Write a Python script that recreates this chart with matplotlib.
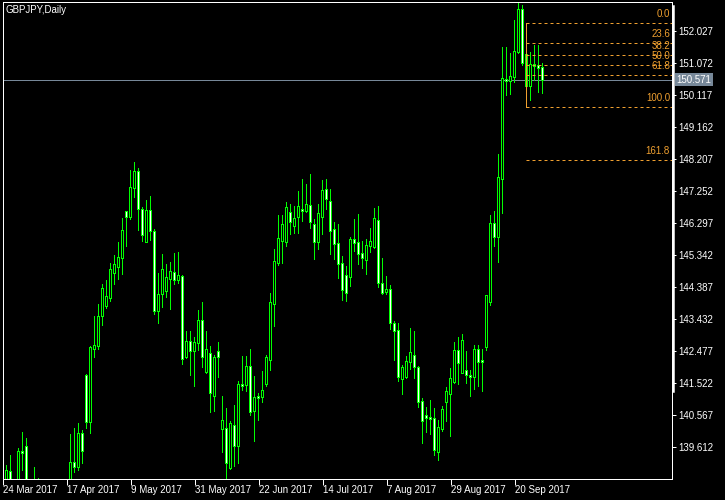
import numpy as np
import pandas as pd
import matplotlib
matplotlib.use("Agg")
import matplotlib.pyplot as plt
from matplotlib.patches import Rectangle
from matplotlib.lines import Line2D
import matplotlib.transforms as mtransforms

plt.rcParams['font.family'] = ['Liberation Sans', 'DejaVu Sans']

title = "GBPJPY,Daily"
dates = pd.bdate_range("2017-03-24", periods=135)

opens = [138.40, 138.89, 138.35, 138.40, 139.49, 139.63, 138.30, 137.80, 137.50, 137.00,
         136.80, 136.50, 136.10, 135.90, 136.20, 136.00, 137.00, 139.16, 139.01, 140.02,
         141.75, 140.36, 142.53, 142.62, 143.50, 143.82, 144.06, 144.81, 144.99, 145.25,
         146.65, 146.48, 147.34, 147.84, 146.70, 145.73, 146.68, 146.05, 143.66, 144.17,
         144.27, 144.63, 144.83, 144.60, 144.71, 142.28, 142.77, 142.48, 142.72, 143.39,
         141.85, 142.40, 141.14, 142.47, 140.13, 140.16, 138.99, 140.26, 139.64, 141.48,
         141.46, 142.02, 140.69, 141.13, 141.11, 141.48, 142.20, 143.87, 145.10, 145.76,
         145.73, 146.62, 146.21, 146.46, 146.71, 146.64, 146.83, 146.26, 145.73, 146.48,
         147.30, 146.95, 146.11, 145.69, 145.10, 144.74, 144.69, 145.81, 145.72, 145.39,
         145.19, 145.61, 145.58, 146.38, 144.49, 144.24, 144.31, 143.30, 143.10, 141.62,
         141.68, 142.15, 142.34, 142.00, 140.98, 140.56, 140.51, 140.48, 139.46, 140.15,
         140.96, 141.19, 141.54, 142.49, 141.82, 141.90, 141.75, 141.70, 142.52, 142.20,
         142.58, 143.94, 146.28, 145.88, 147.61, 150.59, 150.54, 150.66, 151.40, 152.67,
         151.33, 150.39, 151.04, 151.01, 150.94]
highs = [139.07, 139.37, 138.55, 139.58, 140.06, 139.87, 138.60, 139.01, 138.68, 137.60,
         137.30, 136.90, 136.60, 136.40, 136.60, 137.20, 139.99, 140.17, 140.33, 140.11,
         141.78, 142.62, 143.50, 143.87, 144.47, 144.59, 145.11, 145.34, 145.72, 146.44,
         146.65, 147.87, 148.11, 147.93, 146.77, 146.98, 147.10, 146.11, 144.80, 145.37,
         145.07, 145.13, 145.40, 145.42, 144.74, 143.07, 143.07, 142.89, 143.69, 143.93,
         143.07, 142.62, 142.35, 142.74, 141.13, 140.77, 140.38, 140.86, 141.57, 142.32,
         142.32, 142.53, 141.72, 141.21, 141.88, 142.35, 144.19, 145.51, 146.53, 146.53,
         146.92, 146.86, 146.80, 147.25, 147.60, 147.45, 147.75, 146.41, 146.86, 147.57,
         147.60, 147.30, 146.32, 146.26, 145.31, 145.01, 145.87, 146.41, 146.56, 145.75,
         145.81, 146.14, 146.74, 146.80, 145.25, 144.71, 144.44, 143.37, 143.30, 142.05,
         142.32, 143.16, 143.07, 142.03, 141.08, 140.81, 141.01, 140.78, 140.41, 140.83,
         141.40, 141.97, 142.75, 142.90, 142.98, 142.48, 141.90, 142.65, 142.65, 142.52,
         144.14, 146.53, 146.65, 148.35, 151.53, 151.55, 151.37, 152.35, 152.86, 152.80,
         151.54, 151.40, 151.60, 151.60, 151.06]
lows = [138.20, 137.90, 137.85, 138.20, 138.92, 138.00, 137.50, 137.20, 136.70, 136.50,
        136.20, 135.80, 135.60, 135.50, 135.70, 135.60, 136.80, 138.86, 138.92, 139.13,
        140.17, 140.02, 142.30, 142.53, 143.25, 143.76, 143.97, 144.47, 144.63, 144.78,
        145.61, 146.41, 147.07, 146.08, 145.76, 145.73, 145.78, 143.57, 143.31, 143.79,
        144.09, 143.73, 144.47, 144.51, 142.08, 142.25, 141.75, 141.43, 142.50, 141.98,
        141.81, 140.66, 140.68, 141.70, 139.46, 138.55, 138.96, 139.04, 139.14, 141.31,
        141.29, 140.56, 139.79, 140.41, 140.96, 141.43, 141.90, 143.23, 145.04, 145.10,
        145.60, 145.95, 145.98, 146.00, 146.36, 146.62, 146.15, 145.22, 145.52, 145.96,
        146.71, 145.37, 145.22, 144.66, 144.00, 143.97, 144.42, 145.46, 145.08, 144.96,
        144.78, 145.43, 145.54, 144.37, 144.17, 144.16, 143.13, 142.20, 141.57, 141.19,
        141.65, 141.93, 141.65, 140.81, 139.73, 140.06, 139.99, 139.37, 139.22, 140.08,
        140.39, 139.94, 141.51, 141.49, 141.81, 141.52, 141.14, 141.33, 141.43, 141.29,
        142.50, 143.84, 145.61, 145.13, 146.60, 150.11, 150.14, 150.51, 151.35, 151.01,
        150.11, 149.96, 150.56, 150.20, 150.18]
closes = [138.92, 138.30, 138.15, 139.49, 139.44, 138.30, 137.70, 137.50, 137.00, 136.80,
          136.50, 136.10, 135.90, 136.20, 136.00, 136.90, 139.16, 139.01, 140.02, 139.49,
          140.36, 142.60, 142.65, 143.52, 144.36, 144.11, 144.92, 145.07, 145.28, 146.08,
          146.48, 147.36, 147.84, 146.70, 145.94, 146.68, 146.04, 143.67, 144.17, 144.92,
          144.68, 144.86, 144.60, 144.74, 142.22, 142.77, 142.47, 142.74, 143.39, 142.30,
          142.53, 141.23, 142.30, 142.28, 140.41, 139.12, 140.31, 139.64, 141.48, 141.43,
          142.02, 140.66, 141.09, 141.08, 141.31, 142.29, 143.93, 145.16, 145.84, 146.26,
          146.77, 146.31, 146.44, 146.80, 146.64, 146.86, 146.33, 145.73, 146.59, 147.27,
          147.01, 146.06, 145.65, 145.08, 144.30, 144.21, 145.81, 145.70, 145.37, 145.25,
          145.63, 145.75, 146.43, 144.49, 144.21, 144.32, 143.30, 143.08, 141.70, 141.98,
          142.16, 142.43, 141.98, 140.96, 140.39, 140.48, 140.43, 139.52, 140.21, 140.73,
          141.29, 141.65, 142.49, 142.12, 142.80, 141.75, 141.69, 142.52, 142.13, 142.13,
          144.14, 146.28, 145.88, 147.65, 150.61, 150.54, 150.68, 151.42, 152.67, 151.06,
          150.39, 151.04, 150.98, 150.93, 150.571]

price_ticks = [152.027, 151.072, 150.117, 149.162, 148.207, 147.252, 146.297,
               145.342, 144.387, 143.432, 142.477, 141.522, 140.567, 139.612]
last_price = 150.571

# fibonacci retracement drawn on bar 130
fib_bar = 130
fib_zero = 152.268
fib_hundred = 149.743
fib_levels = [0.0, 23.6, 38.2, 50.0, 61.8, 100.0, 161.8]

lime = '#00FF00'
orange = '#F0A030'
px = 0.72  # one pixel in points at dpi 100

fig = plt.figure(figsize=(7.25, 5), dpi=100, facecolor='black')
ax = fig.add_axes([3 / 725, 21 / 500, 669 / 725, 477 / 500], facecolor='black')

x = np.arange(len(closes))
ax.vlines(x, lows, highs, color=lime, lw=px, antialiased=False, zorder=2)
for i in range(len(closes)):
    o, c = opens[i], closes[i]
    bottom = min(o, c)
    h = max(abs(c - o), 0.03)
    fill = 'white' if c < o else 'black'
    ax.add_patch(Rectangle((x[i] - 0.25, bottom), 0.5, h, facecolor=fill,
                           edgecolor=lime, lw=px, antialiased=False, zorder=3))

# current price line
ax.axhline(last_price, color='#778899', lw=px, zorder=1)

# fibo levels
span = fib_zero - fib_hundred
ax.plot([fib_bar, fib_bar], [fib_hundred, fib_zero], color=orange, lw=px, zorder=4)
for lv in fib_levels:
    p = fib_zero - span * lv / 100
    ax.plot([fib_bar, 166.5], [p, p], color=orange, lw=px, ls=(0, (3, 3)), zorder=4)
    ax.text(0.997, p + 0.12, f"{lv:.1f}", color=orange, fontsize=7, ha='right', va='bottom',
            transform=mtransforms.blended_transform_factory(ax.transAxes, ax.transData))

ax.set_xlim(-0.825, 166.425)
ax.set_ylim(138.65, 152.885)

ax.yaxis.tick_right()
ax.set_yticks(price_ticks)
ax.set_yticklabels([f"{t:.3f}" for t in price_ticks])
ax.tick_params(axis='y', colors='white', length=3, width=px, pad=1.5, labelsize=7)

tick_idx = list(range(0, len(dates), 16))
ax.set_xticks([i - 0.8 for i in tick_idx])
ax.set_xticklabels([f"{dates[i].day} {dates[i].strftime('%b %Y')}" for i in tick_idx])
for lab in ax.get_xticklabels():
    lab.set_horizontalalignment('left')
ax.tick_params(axis='x', colors='white', length=4, width=px, pad=0.5, labelsize=7)

for s in ax.spines.values():
    s.set_color('white')
    s.set_linewidth(px)

# thick part of price scale
fig.add_artist(Line2D([672.5 / 725] * 2, [1 - 6 / 500, 1 - 391 / 500], color='white', lw=1.8))

ax.text(1.007, last_price, "150.571", color='white', fontsize=7, ha='left', va='center',
        transform=mtransforms.blended_transform_factory(ax.transAxes, ax.transData),
        bbox=dict(boxstyle='square,pad=0.15', facecolor='#778899', edgecolor='none'))

fig.text(6 / 725, 1 - 5 / 500, title, color='white', fontsize=7, ha='left', va='top')

fig.savefig('out.png', dpi=100, facecolor='black')
